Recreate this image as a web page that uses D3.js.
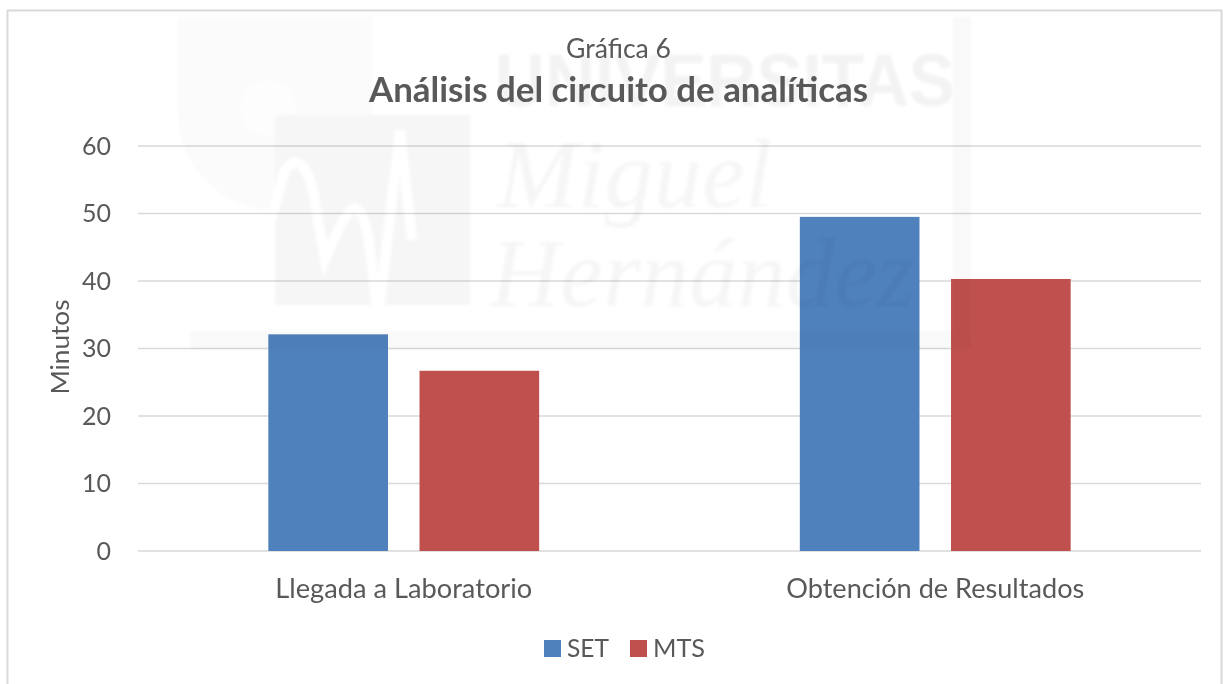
<!DOCTYPE html>
<html><head><meta charset="utf-8">
<script src="https://cdnjs.cloudflare.com/ajax/libs/d3/7.8.5/d3.min.js"></script>
<style>html,body{margin:0;padding:0;background:#fff;overflow:hidden}svg{display:block}text{font-family:Lato,"Open Sans",sans-serif}</style>
</head><body><svg id="c" width="1231" height="684"></svg>
<script>
const categories = ["Llegada a Laboratorio", "Obtención de Resultados"];
const seriesNames = ["SET", "MTS"];
const setValues = [32.1, 49.5];
const mtsValues = [26.7, 40.3];
const yTicks = [0, 10, 20, 30, 40, 50, 60];
const colors = ["#4f81bd", "#c0504d"];
const seriesValues = [setValues, mtsValues];

const svg = d3.select("#c");
const W = 1231, H = 684;
const m = {l: 138, r: 1201, t: 146, b: 551};
const textCol = "#595959";

svg.append("defs").append("filter").attr("id", "soft").append("feGaussianBlur").attr("stdDeviation", 1.5);

// frame (open at the bottom of the crop)
svg.append("path").attr("d", `M7.5,${H}V10.5H1221.5V${H}`).attr("fill", "none").attr("stroke", "#d9d9d9").attr("stroke-width", 2);

const x = d3.scaleBand().domain(categories).range([m.l, m.r]);
const x1 = d3.scaleBand().domain(seriesNames).range([0, x.bandwidth()]).paddingInner(0.2086).paddingOuter(0.862);
const y = d3.scaleLinear().domain([0, 60]).range([m.b, m.t]);

// gridlines
svg.append("g").selectAll("line").data(yTicks).join("line")
  .attr("x1", m.l).attr("x2", m.r).attr("y1", d => y(d)).attr("y2", d => y(d))
  .attr("stroke", "#d9d9d9").attr("stroke-width", 1.6);

// bars
const gs = svg.append("g").selectAll("g").data(seriesNames).join("g").attr("fill", (d, i) => colors[i]);
gs.selectAll("rect").data((s, i) => categories.map((c, j) => ({c, s, v: seriesValues[i][j]}))).join("rect")
  .attr("x", d => x(d.c) + x1(d.s)).attr("width", x1.bandwidth())
  .attr("y", d => y(d.v)).attr("height", d => y(0) - y(d.v));

// faint watermark, multiplied over the chart
const wm = svg.append("g").style("mix-blend-mode", "multiply").attr("fill", "#f6f6f6").attr("filter", "url(#soft)");
wm.append("rect").attr("x", 190).attr("y", 331).attr("width", 782).attr("height", 18).attr("fill", "#f9f9f9");
wm.append("rect").attr("x", 953).attr("y", 17).attr("width", 18).attr("height", 332).attr("fill", "#f9f9f9");
wm.append("path").attr("d", "M178,17H372V115H275V210A97,97 0 0 1 178,115Z").attr("fill", "#fbfbfb");
wm.append("circle").attr("cx", 268).attr("cy", 108).attr("r", 28).attr("fill", "#fdfdfd");
wm.append("rect").attr("x", 275).attr("y", 115).attr("width", 195).attr("height", 190);
wm.append("path").attr("d", "M250,295L285,170Q300,150 312,185L325,260Q345,210 355,208Q365,210 370,250L378,320L400,130L412,240").attr("fill", "none").attr("stroke", "#fff").attr("stroke-width", 10);
wm.append("text").attr("x", 495).attr("y", 106).attr("font-size", 74).attr("font-weight", 700).attr("textLength", 460).attr("lengthAdjust", "spacingAndGlyphs").style("font-family", "'Liberation Sans'").attr("fill", "#f3f3f3").text("UNIVERSITAS");
wm.append("text").attr("x", 497).attr("y", 207).attr("font-size", 98).attr("font-style", "italic").attr("textLength", 275).attr("lengthAdjust", "spacingAndGlyphs").style("font-family", "'Liberation Serif'").text("Miguel");
wm.append("text").attr("x", 490).attr("y", 306).attr("font-size", 98).attr("font-style", "italic").attr("textLength", 425).attr("lengthAdjust", "spacingAndGlyphs").style("font-family", "'Liberation Serif'").text("Hernández");

// y axis labels
const fs = 25;
svg.append("g").selectAll("text").data(yTicks).join("text")
  .attr("x", 111).attr("y", d => y(d) + 8.5).attr("text-anchor", "end")
  .attr("font-size", fs).attr("fill", textCol).text(d => d);
svg.append("text").attr("transform", "translate(69,347) rotate(-90)").attr("text-anchor", "middle")
  .attr("font-size", 25).attr("textLength", 95).attr("lengthAdjust", "spacingAndGlyphs").attr("fill", textCol).text("Minutos");

// x labels
const xLabelWidths = [257, 298];
svg.append("g").selectAll("text").data(categories).join("text")
  .attr("x", d => x(d) + x.bandwidth() / 2).attr("y", 598).attr("text-anchor", "middle")
  .attr("font-size", 26).attr("textLength", (d, i) => xLabelWidths[i]).attr("lengthAdjust", "spacingAndGlyphs")
  .attr("fill", textCol).text(d => d);

// title
svg.append("text").attr("x", 618.5).attr("y", 58).attr("text-anchor", "middle").attr("font-size", 26).attr("textLength", 105).attr("lengthAdjust", "spacingAndGlyphs").attr("fill", textCol).text("Gráfica 6");
svg.append("text").attr("x", 618.5).attr("y", 102).attr("text-anchor", "middle").attr("font-size", 34).attr("font-weight", 700).attr("textLength", 499).attr("lengthAdjust", "spacingAndGlyphs").attr("fill", textCol).text("Análisis del circuito de analíticas");

// legend
const lg = svg.append("g");
const legendX = [544, 630];
const legendW = [42, 52];
seriesNames.forEach((s, i) => {
  lg.append("rect").attr("x", legendX[i]).attr("y", 640).attr("width", 17).attr("height", 17).attr("fill", colors[i]);
  lg.append("text").attr("x", legendX[i] + 23).attr("y", 657).attr("font-size", 25).attr("textLength", legendW[i]).attr("lengthAdjust", "spacingAndGlyphs").attr("fill", textCol).text(s);
});
</script></body></html>
